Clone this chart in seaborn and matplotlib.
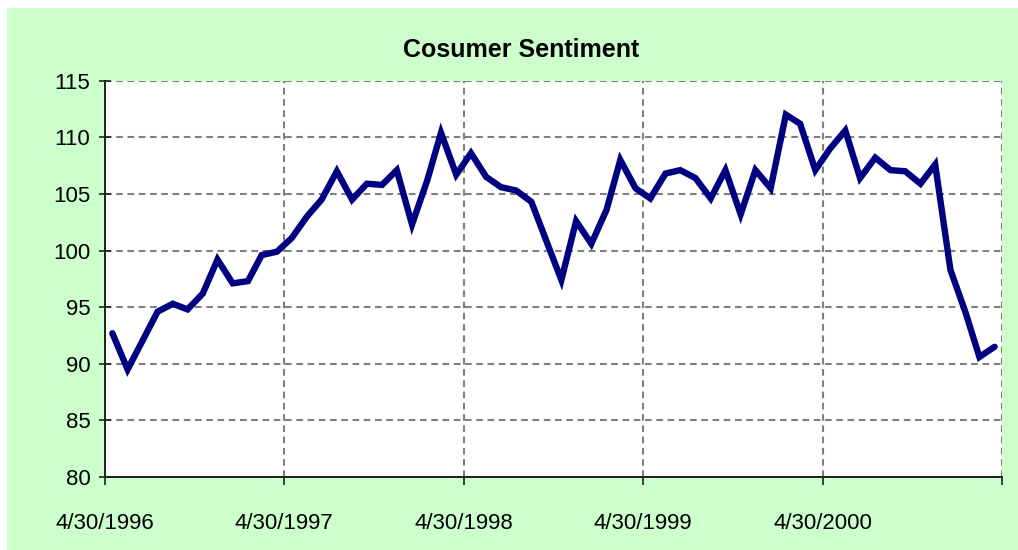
import matplotlib
matplotlib.use("Agg")
import matplotlib.pyplot as plt
from matplotlib.patches import Rectangle
import pandas as pd
import seaborn as sns

# ---- data ----
months = pd.date_range("1996-05-01", periods=60, freq="MS") + pd.Timedelta(days=14)
sentiment = [
    92.7, 89.5, 92.0, 94.6, 95.3, 94.8, 96.2, 99.2, 97.1, 97.3,
    99.6, 99.9, 101.1, 103.0, 104.5, 107.0, 104.5, 105.9, 105.8, 107.1,
    102.3, 106.2, 110.4, 106.7, 108.6, 106.5, 105.6, 105.3, 104.3, 100.9,
    97.4, 102.6, 100.6, 103.6, 108.0, 105.5, 104.6, 106.8, 107.1, 106.4,
    104.6, 107.1, 103.2, 107.1, 105.5, 112.0, 111.2, 107.1, 109.0, 110.6,
    106.4, 108.2, 107.1, 107.0, 105.9, 107.6, 98.3, 94.5, 90.6, 91.5,
]
tick_dates = ["1996-04-30", "1997-04-30", "1998-04-30", "1999-04-30", "2000-04-30", "2001-04-30"]
tick_labels = ["4/30/1996", "4/30/1997", "4/30/1998", "4/30/1999", "4/30/2000", ""]
y_ticks = [80, 85, 90, 95, 100, 105, 110, 115]
title = "Cosumer Sentiment"

df = pd.DataFrame({"date": months, "value": sentiment})

sns.set_theme(style="white")
plt.rcParams["font.family"] = ["Liberation Sans", "DejaVu Sans"]

fig = plt.figure(figsize=(10.18, 5.5), dpi=100)
fig.patch.set_facecolor("white")
fig.patches.append(Rectangle((7 / 1018, 0), 1 - 7 / 1018, 1 - 8 / 550,
                             transform=fig.transFigure, facecolor="#CCFFCC",
                             edgecolor="none", zorder=-10))

ax = fig.add_axes([105 / 1018, 1 - 477 / 550, (1002 - 105) / 1018, (477 - 80.7) / 550])
ax.set_facecolor("white")

sns.lineplot(data=df, x="date", y="value", ax=ax, color="#000080", linewidth=4.6,
             solid_joinstyle="miter", zorder=5)

ax.set_xlim(pd.Timestamp(tick_dates[0]), pd.Timestamp(tick_dates[-1]))
ax.set_ylim(80, 115)
ax.set_xticks([pd.Timestamp(d) for d in tick_dates])
ax.set_xticklabels(tick_labels)
ax.set_yticks(y_ticks)
ax.set_yticklabels([str(v) for v in y_ticks])

ax.set_xlabel("")
ax.set_ylabel("")

grid_style = dict(color="#808080", linewidth=1.5, linestyle=(0, (3.2, 2.2)))
ax.grid(True, axis="both", **grid_style)
ax.set_axisbelow(True)

for s in ["top", "right"]:
    ax.spines[s].set_visible(False)
for s in ["left", "bottom"]:
    ax.spines[s].set_color("#202020")
    ax.spines[s].set_linewidth(1.4)
    ax.spines[s].set_zorder(6)

ax.tick_params(axis="y", direction="inout", length=9, width=1.2, color="#202020",
               labelsize=16, pad=6, left=True, labelcolor="black")
ax.tick_params(axis="x", direction="out", length=6, width=1.2, color="#202020",
               labelsize=16, pad=20, bottom=True, labelcolor="black")

fig.text(521 / 1018, 1 - 50 / 550, title, ha="center", va="center",
         fontsize=18, fontweight="bold", color="black")

fig.savefig("out.png", dpi=100, facecolor=fig.get_facecolor())
